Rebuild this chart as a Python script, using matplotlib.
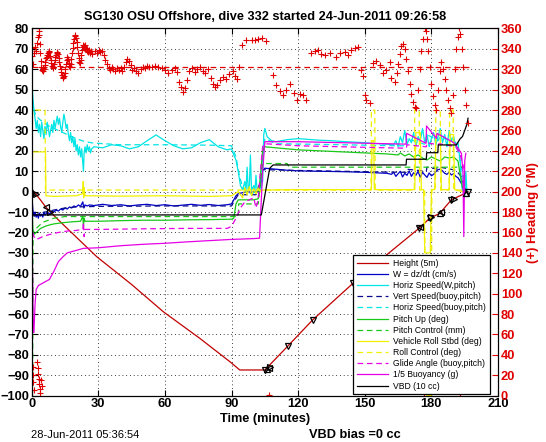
"""Seaglider dive plot: SG130 dive 332, rebuilt from the exported figure."""

import matplotlib
matplotlib.use("Agg")
import matplotlib.pyplot as plt

plt.rcParams["font.family"] = ["Liberation Sans", "DejaVu Sans"]

# ---------------- data ----------------
# depth / 5 m
height_t = [0, 2, 6.4, 8.2, 15, 29.3, 45, 59.2, 75.7, 89.2, 93.7, 105, 115.5, 126.5,
            144.7, 159.8, 174.5, 179.3, 183.8, 189, 195.8, 196.5]
height_v = [0, -1.3, -7.6, -9.8, -17, -31.9, -45.5, -58.8, -71.9, -83.3, -87.4, -87.4,
            -75.5, -62.9, -44.9, -31, -17.9, -13, -10.6, -4, -0.5, 0]

# GC markers on the depth trace
gc_t = [0.3, 2, 6.4, 8.2, 105, 106, 107, 107.5, 115.5, 126.5, 144.7, 174.5, 175,
        179.3, 180, 183.8, 184.5, 189, 190, 195.8, 196.3]
gc_v = [0, -1.3, -7.6, -9.8, -87.4, -87, -86.5, -86, -75.5, -62.9, -44.9, -17.9, -17.5,
        -13, -12.5, -10.6, -10, -4, -3.5, -0.5, -0.2]
gc_m = ["^", ">", "<", ">", "v", "^", "<", ">", "v", "v", "v", "v", "<",
        "v", ">", "^", "<", "v", ">", "^", "v"]

# W = dz/dt
w_t = [0, 0.5, 1, 1.5, 2, 2.5, 3, 3.5, 4, 4.5, 5, 5.5, 6, 7, 8, 9, 10, 11, 12, 13, 14, 15,
       16, 17, 18, 19, 20, 21, 22, 23, 23.5, 24, 25, 26, 28, 32, 36, 40, 44, 48, 52, 56,
       60, 64, 68, 72, 76, 80, 84, 88, 90, 91, 92, 93, 95, 97, 99, 101, 102.5, 103.5, 104,
       105, 110, 115, 120, 130, 140, 150, 160, 162, 163, 164, 165, 166, 167, 168, 169, 170,
       171, 172, 173, 174, 175, 176, 177, 178, 179, 180, 181, 182, 183, 184, 185, 186, 187,
       188, 189, 190, 191, 192, 193, 194, 195, 196]
w_v = [0, -9, -12, -10, -12.5, -11, -13, -10.5, -12, -11, -12.5, -10, -11.5, -10, -11,
       -9.5, -10, -9, -9.5, -8.5, -9, -8, -8.5, -7.5, -8, -7, -7.5, -6.5, -7.2, -5, -8,
       -6.5, -7, -6.5, -6.8, -6.2, -6.8, -6.4, -7, -6.5, -6.2, -6.8, -6.4, -7, -6.6, -6.2,
       -6.7, -6.3, -6.8, -6.4, -6, -4, -2, -1, -0.5, 0, -0.3, 0.2, 0, 6, 10.5, 11.5, 11,
       10.5, 10.2, 10, 9.8, 9.5, 9, 8.5, 9.5, 7.5, 8.8, 10, 7.2, 9, 8, 10.2, 7.5, 9.3, 8,
       10, 7, 9.5, 8.2, 7, 9.2, 7.8, 8.5, 9.8, 10.8, 11, 10.2, 9, 8.5, 9.5, 8.2, 8.8, 7.5,
       6.8, 5, 3, 2, 1]

# horizontal speed from W and pitch
hs_t = [0, 0.3, 0.6, 1, 1.5, 2, 2.5, 3, 3.5, 4, 4.5, 5, 5.5, 6, 6.5, 7, 7.5, 8, 8.5, 9,
        9.5, 10, 10.5, 11, 11.5, 12, 12.5, 13, 13.5, 14, 14.5, 15, 15.5, 16, 16.5, 17,
        17.5, 18, 18.5, 19, 19.5, 20, 20.5, 21, 21.5, 22, 22.5, 23, 23.3, 23.6, 24, 24.5,
        25, 25.5, 26, 26.5, 27, 28, 32, 36, 40, 44, 48, 52, 56, 60, 64, 68, 72, 76, 80, 84,
        88, 90, 91, 92, 93, 94, 95, 96, 96.5, 97, 97.5, 98, 98.5, 99, 100, 100.5, 101,
        101.5, 102, 103, 104, 104.5, 105, 106, 108, 110, 115, 120, 125, 130, 135, 140,
        145, 150, 155, 160, 163, 164, 165, 166, 167, 168, 169, 170, 171, 172, 173, 174,
        175, 176, 177, 178, 179, 180, 181, 182, 183, 184, 185, 186, 187, 188, 189, 190,
        191, 192, 193, 193.5, 194, 194.5, 195, 195.5, 196]
hs_v = [10, 50, 45, 40, 36, 31, 35, 29, 33, 27, 34, 30, 26, 32, 28, 34, 31, 27, 30, 33,
        29, 35, 31, 34, 37, 33, 36, 32, 29, 34, 38, 35, 31, 33, 28, 25, 29, 24, 27, 22,
        26, 20, 23, 18, 22, 17, 21, 14, 10, 19, 22, 19, 23, 20, 22, 19, 21, 22, 21.5, 23,
        22.5, 21, 22, 25, 27.8, 25, 22.5, 21, 21.5, 24, 25.5, 22, 20.5, 21, 18, 15.5, 10,
        3, 1, 5, 0, 12, 1, 2, 18, 0.5, 3, 0, 8, 1, 2, 1, 5, 28, 31, 27, 25, 24.5, 25.5, 26,
        25.6, 25.2, 25, 24.6, 24.3, 24, 23.6, 23.2, 23, 25, 22, 27, 24, 30, 23, 26, 24, 29,
        22, 27, 25, 31, 24, 28, 22, 26, 29, 23, 27, 31, 24, 28, 22, 30, 25, 27, 22, 24, 14,
        5, 0, 8, -2, 10, 0]

# vertical speed from buoyancy and pitch
vs_t = [1, 3, 6, 10, 15, 20, 30, 60, 90, 91, 93, 101, 103, 104, 120, 160, 168.7, 169,
        177.7, 178, 183, 184, 191, 193, 195]
vs_v = [-12, -11, -10, -9, -8, -7.5, -7.2, -7, -7, -5, -1.5, -1.5, 5, 10.8, 10.4, 9.6, 9.5,
        11, 10, 12, 11, 12, 10.5, 8, 3]

# horizontal speed from buoyancy and pitch
hb_t = [0.5, 1, 2, 4, 8, 12, 16, 20, 24, 28, 40, 60, 80, 90, 92, 93.5, 95, 97, 99, 101,
        103, 104, 105, 110, 130, 150, 165, 168.7, 169, 177.7, 178, 183, 184, 191, 193, 195]
hb_v = [45, 40, 37, 35, 32, 30, 28, 26, 24.5, 23.8, 23, 23, 22.8, 22.5, 17, 8, 2, -0.5, -1,
        0, 2, 15, 26, 23.5, 23.2, 22.8, 22.5, 22.5, 26, 23, 28, 25, 27, 24, 15, 3]

# pitch
pitch_t = [0, 0.5, 1, 2, 3, 4, 5, 6, 8, 10, 14, 18, 22, 23, 23.3, 23.6, 24, 30, 40, 50,
           60, 70, 80, 90, 91, 92, 93, 100, 102, 103, 104, 105, 110, 120, 130, 140, 150,
           160, 165, 166, 168, 170, 172, 174, 176, 178, 180, 182, 184, 186, 188, 190, 192,
           193, 194, 195]
pitch_v = [0, -18, -21, -20, -19, -18, -17.5, -17, -16.3, -15.8, -15.2, -14.8, -14.5, -12,
           -17, -13, -14.5, -14.5, -14.2, -14, -14, -13.8, -13.7, -13.5, -13, -6, -4, -4,
           -3.5, 8, 20, 22, 21.5, 20.5, 20, 19.5, 19, 18.5, 18, 19, 17.5, 18.5, 17, 18,
           16.5, 15.5, 17, 16, 15, 17, 16.5, 17, 15, 8, 2, 0]

pitch_ctl_t = [0, 0.4, 0.6, 2, 5, 10, 15, 93, 93.2, 102, 104, 115, 116, 194]
pitch_ctl_v = [-95, -95, -20, -18, -15, -13, -12.2, -12.2, -6, -6, 13.8, 13.8, 12, 12]

# roll
roll_t = [0, 0.4, 6.2, 6.4, 10, 20, 23, 23.2, 23.4, 23.6, 24, 40, 60, 80, 90, 93, 95, 96,
          97, 98, 99, 100, 101, 102, 103, 104, 120, 140, 153, 153.3, 154, 154.3, 172.5,
          173, 175, 175.5, 176.5, 177, 179.5, 180, 181.5, 182, 184, 184.5, 188, 188.5, 190,
          190.5, 194]
roll_v = [0, 19.5, 19.5, -2, -2.3, -2, -1, 5, -3, 2, -2, -2.2, -2, -2.3, -2, 0, -3, 2,
          -1.5, 2.5, -2, 1.5, -1, 2, 0, 0.8, 1, 1, 1, 25, 25, 1, 1, 29, 29, 1, 1, -30, -30,
          1, 1, 28, 28, 1, 1, 28, 28, 1, 0]

roll_ctl_t = [0, 0.4, 6.0, 6.2, 152.8, 153, 154.5, 154.7, 172.3, 172.5, 174.5, 174.7, 177,
              177.2, 180, 180.2, 181.8, 182, 184, 184.2, 188, 188.2, 189.8, 190, 194]
roll_ctl_v = [0, 40, 40, 0.8, 0.8, 40, 40, 0.8, 0.8, 40, 40, 0.8, 0.8, -100, -100, 0.8,
              0.8, 40, 40, 0.8, 0.8, 40, 40, 0.8, 0.8]

# glide angle and buoyancy
glide_t = [0.5, 1, 2, 3, 4, 5, 8, 12, 16, 20, 23, 23.3, 23.6, 24, 30, 50, 70, 88, 90, 92,
           94, 96, 98, 100, 101, 102, 103, 104, 105, 120, 140, 160, 168.7, 169, 177.7,
           178, 183, 183.5, 191, 193, 195]
glide_v = [-20, -22, -23.5, -23, -22.5, -22, -21, -20, -19.3, -19, -18.5, -15, -22, -18.5,
           -18.5, -18.2, -18, -18, -17, -13, -8, -5, -4, -3, -8, -4, 10, 22, 23.5, 22.5,
           22, 21.5, 21.3, 23, 22, 24, 23, 23.5, 22, 18, 10]

buoy_t = [0, 0.3, 0.7, 1, 1.5, 2, 3, 5, 8, 10, 12, 14, 16, 20, 23.2, 30, 40, 50, 60, 70,
          80, 90, 100, 102.6, 104, 105, 120, 140, 160, 168.6, 168.8, 177.6, 177.8, 182.3,
          182.5, 186.7, 190.5, 193.5, 194.2, 194.6, 195, 195.5]
buoy_v = [0, -30, -69, -69, -55, -48, -46, -44.8, -43, -39, -34.3, -32, -30, -28.8, -27.8,
          -27.5, -26.5, -25.8, -25.3, -24.6, -24, -23.4, -23, -22.8, 10, 24.5, 24.5, 24,
          23.5, 23.3, 28.6, 23.7, 32.2, 26.1, 28.6, 26.1, 23.7, 18.8, 10, -22, 15, 18.8]

# VBD / 10 cc
vbd_t = [0, 0.4, 103.4, 107.2, 108.7, 168.6, 168.8, 177.7, 177.9, 182.9, 183.1, 191.2,
         193, 194, 195, 196, 196.5]
vbd_v = [5, -11.4, -11.4, 11.5, 13.1, 13.1, 15.9, 15.9, 19.1, 19.1, 22.9, 22.9, 26, 27,
         30, 33, 36]

# compass heading (deg M), one value per '+'
head_t = [0.6, 0.7, 0.8, 0.9, 2.6, 2.8, 3.0, 3.2, 3.4, 3.6, 3.8, 4.3, 4.5,
          0.1, 0.3, 0.5, 1.2, 1.6, 2.0, 2.4, 2.8, 3.1, 3.3, 3.5, 3.7, 3.9, 4.1, 4.4, 4.7,
          5.0, 5.3, 5.6, 5.9, 6.2, 6.5, 6.8, 7.1, 7.4, 7.7, 8.0, 8.3, 8.6, 8.9, 9.2, 9.5,
          9.8, 10.1, 10.4, 10.7, 11.0, 11.3, 11.6, 11.9, 12.2, 12.5, 12.8, 13.1, 13.4, 13.7,
          14.0, 14.3, 14.6, 14.9, 15.2, 15.5, 15.8, 16.1, 16.4, 16.7, 17.0, 17.3, 17.6,
          17.9, 18.2, 18.5, 18.8, 19.1, 19.4, 19.7, 20.0, 20.3, 20.6, 20.9, 21.2, 21.5,
          21.8, 22.1, 22.4, 22.7, 23.0, 23.3, 23.6, 23.9, 24.2, 24.5, 24.8, 25.1, 25.5,
          25.9, 26.3, 26.7, 27.1,
          28.5, 29.3, 30.1, 30.9, 31.7, 32.5, 33.2, 33.9, 34.6, 35.3, 36.0, 36.8, 37.6,
          38.4, 39.2, 40.0, 40.8, 41.6, 42.4, 43.1, 43.8, 44.5, 45.3, 46.2, 47.1, 48.0,
          49.0, 50.0, 51.0, 52.0, 53.0, 54.0, 55.5, 57.0, 58.5, 60.0, 61.5, 63.0, 64.5,
          65.5, 66.3, 67.1, 68.0, 68.9, 69.8, 71.0, 72.2, 73.4, 74.6, 75.8, 77.0, 78.2,
          79.4, 80.6, 81.6, 82.6, 83.6, 84.6, 86.0, 87.5, 89.0, 90.5, 91.5, 92.3, 93.2,
          94.5, 96.7, 99.0, 100.5, 102.0, 103.8, 105.3, 107.0,
          108.7, 110.2, 111.7, 113.2, 114.7, 116.5, 118.0, 119.6, 121.0, 122.2, 123.7,
          126.0, 127.5, 129.0, 130.5, 132.0, 134.2, 137.2, 138.7, 141.0, 142.5, 144.0,
          145.5, 147.0, 148.5, 149.0, 150.0, 150.7, 152.2, 153.7, 155.2, 156.7, 158.2,
          159.7, 161.2, 162.0, 163.5,
          164.3, 165.0, 165.7, 166.5, 167.2, 168.0, 168.7, 169.4, 170.2, 171.0, 171.7,
          172.5, 173.2, 174.0, 174.7, 175.5, 176.2, 176.8, 177.0, 177.0, 177.2, 177.4,
          178.0, 178.6, 179.2, 180.0, 180.7, 181.5, 182.2, 183.0, 183.7, 184.5, 185.2,
          186.0, 186.7, 187.5, 188.2, 189.0, 189.7, 190.5, 191.2, 192.0, 192.4, 192.7,
          192.9, 193.0, 193.1, 193.6, 194.2, 195.0, 195.7, 196.5]
head_v = [28, 20, 13, 6, 33, 27, 21, 16, 11, 7, 3, 15, 9,
          333, 341, 325, 336, 342, 338, 346, 352, 358, 360, 354, 345, 336, 328, 322, 319,
          318, 321, 320, 324, 327, 331, 334, 332, 336, 338, 337, 333, 329, 326, 323, 321,
          322, 325, 329, 332, 334, 336, 337, 335, 331, 327, 323, 320, 317, 314,
          312, 311, 313, 316, 320, 325, 329, 332, 330, 326, 323, 322, 325,
          330, 336, 341, 346, 350, 353, 354, 351, 347, 342, 336, 331, 327,
          326, 329, 334, 339, 342, 344, 343, 340, 344, 341, 338, 340, 337,
          339, 336, 338, 335,
          338, 336, 339, 337, 338, 334, 329, 325, 321, 319, 322, 320, 318,
          321, 319, 321, 318, 322, 327, 330, 328, 324, 319, 321, 318, 316,
          320, 322, 321, 323, 322, 322, 323, 322, 321, 319, 316, 319, 321,
          317, 308, 303, 298, 302, 309, 318, 321, 317, 320, 322, 318, 316,
          320, 311, 306, 303, 305, 309, 312, 310, 315, 318, 313, 310, 322,
          344, 349, 349, 349, 350, 351, 348, 1,
          314, 305, 299, 295, 300, 306, 297, 290, 296, 295, 290,
          336, 338, 339, 335, 334, 336, 332, 336, 337, 334, 339,
          341, 342, 319, 313, 295, 290, 287, 326, 328, 324, 316,
          319, 327, 311, 308,
          316, 325, 335, 343, 345, 340, 330, 318, 306, 296, 288,
          283, 282, 300, 320, 338, 350, 3, 6, 360, 9, 358,
          350, 338, 322, 306, 294, 285, 280, 300, 318, 327, 320,
          310, 300, 290, 282, 277, 295, 320, 340, 352, 360, 2,
          6, 355, 10, 340, 322, 300, 285, 267]

heading_target = 322
x_ticks = list(range(0, 211, 30))
y_ticks = list(range(-100, 81, 10))
head_ticks = list(range(0, 361, 20))

# ---------------- figure ----------------
fig = plt.figure(figsize=(5.46, 4.42), dpi=100)
ax = fig.add_axes([0.0581, 0.1048, 0.854, 0.8308])

lw = 0.9
dash = (0, (4.5, 3))
ax.plot(height_t, height_v, color="#c00000", lw=lw, label="Height (5m)")
for t, v, m in zip(gc_t, gc_v, gc_m):
    ax.plot(t, v, marker=m, color="k", mfc="none", mew=0.9, ms=4.5, ls="none", zorder=5)
ax.plot(w_t, w_v, color="#0000c8", lw=lw, label="W = dz/dt (cm/s)")
ax.plot(hs_t, hs_v, color="#00e5e5", lw=lw, label="Horiz Speed(W,pitch)")
ax.plot(vs_t, vs_v, color="#0a0a8c", lw=lw, ls=dash, label="Vert Speed(buoy,pitch)")
ax.plot(hb_t, hb_v, color="#00e5e5", lw=lw, ls=dash, label="Horiz Speed(buoy,pitch)")
ax.plot(pitch_t, pitch_v, color="#19c819", lw=lw, label="Pitch Up (deg)")
ax.plot(pitch_ctl_t, pitch_ctl_v, color="#19c819", lw=lw, ls=dash, label="Pitch Control (mm)")
ax.plot(roll_t, roll_v, color="#f0f000", lw=lw, label="Vehicle Roll Stbd (deg)")
ax.plot(roll_ctl_t, roll_ctl_v, color="#f0f000", lw=lw, ls=dash, label="Roll Control (deg)")
ax.plot(glide_t, glide_v, color="#e600e6", lw=lw, ls=dash, label="Glide Angle (buoy,pitch)")
ax.plot(buoy_t, buoy_v, color="#e600e6", lw=lw, label="1/5 Buoyancy (g)")
ax.plot(vbd_t, vbd_v, color="k", lw=lw, label="VBD (10 cc)")

ax.set_xlim(0, 210)
ax.set_ylim(-100, 80)
ax.set_xticks(x_ticks)
ax.set_yticks(y_ticks)
ax.grid(True, color="k", linestyle=(0, (1, 3.5)), linewidth=0.6)
ax.tick_params(direction="in", top=True, length=4, labelsize=9.3, pad=2)
for lbl in ax.get_xticklabels() + ax.get_yticklabels():
    lbl.set_fontweight("bold")

ax.set_title("SG130 OSU Offshore, dive 332 started 24-Jun-2011 09:26:58",
             fontsize=9.2, fontweight="bold", pad=6)
ax.set_xlabel("Time (minutes)", fontsize=9.2, fontweight="bold", labelpad=2)

ax2 = ax.twinx()
ax2.plot([0, 197], [heading_target, heading_target], color="#e00000", lw=lw, ls=dash)
ax2.plot(head_t, head_v, ls="none", marker="+", color="#e00000", ms=4.5, mew=0.8)
ax2.set_ylim(0, 360)
ax2.set_yticks(head_ticks)
ax2.tick_params(direction="in", length=4, labelsize=9.3, colors="#e00000", pad=2)
for lbl in ax2.get_yticklabels():
    lbl.set_fontweight("bold")
ax2.set_ylabel("(+) Heading (\u00b0M)", color="#e00000", fontsize=9.5,
               fontweight="bold", labelpad=3)

handles, labels = ax.get_legend_handles_labels()
leg = ax2.legend(handles, labels, loc="upper left",
                 bbox_to_anchor=(353.3 / 546, 1 - 255 / 442),
                 bbox_transform=fig.transFigure, fontsize=6.2, frameon=True,
                 fancybox=False, edgecolor="k", framealpha=1, borderpad=0.45,
                 labelspacing=0.25, handlelength=3.6, handletextpad=0.6,
                 borderaxespad=0)
leg.get_frame().set_linewidth(0.9)
leg.set_zorder(20)

fig.text(31 / 546, 1 - 435 / 442, "28-Jun-2011 05:36:54", fontsize=8,
         ha="left", va="center")
fig.text(355 / 546, 1 - 435 / 442, "VBD bias =0 cc", fontsize=9.2,
         fontweight="bold", ha="center", va="center")

fig.savefig("out.png", dpi=100)
